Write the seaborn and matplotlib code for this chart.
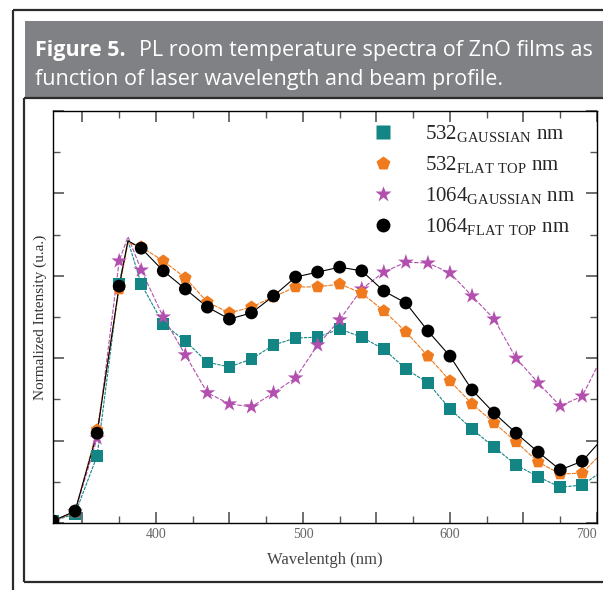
import pandas as pd
import seaborn as sns
import matplotlib.pyplot as plt
from matplotlib.lines import Line2D
from matplotlib.patches import Rectangle
from matplotlib.ticker import MultipleLocator, FuncFormatter

# wavelengths (nm); markers sit on the 15 nm grid
wavelength = [330, 345, 360, 375, 381, 390, 405, 420, 435, 450, 465, 480, 495, 510,
              525, 540, 555, 570, 585, 600, 615, 630, 645, 660, 675, 690, 700]
marker_wavelength = [330, 345, 360, 375, 390, 405, 420, 435, 450, 465, 480, 495, 510,
                     525, 540, 555, 570, 585, 600, 615, 630, 645, 660, 675, 690]

# normalized PL intensity for each laser / beam profile
gauss_532 = [0.005, 0.022, 0.163, 0.580, 0.685, 0.580, 0.483, 0.442, 0.390, 0.379, 0.398,
             0.432, 0.449, 0.451, 0.471, 0.451, 0.422, 0.374, 0.340, 0.277, 0.228, 0.184,
             0.141, 0.112, 0.087, 0.092, 0.117]
flat_532 = [0.005, 0.027, 0.226, 0.568, 0.680, 0.670, 0.636, 0.595, 0.536, 0.510, 0.524,
            0.549, 0.573, 0.573, 0.580, 0.558, 0.515, 0.464, 0.405, 0.345, 0.289, 0.243,
            0.197, 0.148, 0.119, 0.121, 0.158]
gauss_1064 = [0.005, 0.027, 0.206, 0.636, 0.695, 0.614, 0.500, 0.408, 0.316, 0.289, 0.282,
              0.316, 0.352, 0.432, 0.493, 0.568, 0.609, 0.633, 0.631, 0.607, 0.551, 0.495,
              0.400, 0.340, 0.284, 0.308, 0.379]
flat_1064 = [0.005, 0.029, 0.218, 0.575, 0.685, 0.667, 0.612, 0.568, 0.524, 0.495, 0.510,
             0.551, 0.597, 0.609, 0.621, 0.612, 0.563, 0.534, 0.466, 0.405, 0.323, 0.267,
             0.218, 0.172, 0.129, 0.150, 0.190]

x_ticks = [350, 400, 450, 500, 550, 600, 650, 700]
x_tick_labels = ['', '400', '', '500', '', '600', '', '700']

series = ['532 gaussian', '1064 gaussian', '532 flat top', '1064 flat top']
values = {'532 gaussian': gauss_532, '1064 gaussian': gauss_1064,
          '532 flat top': flat_532, '1064 flat top': flat_1064}
legend_order = ['532 gaussian', '532 flat top', '1064 gaussian', '1064 flat top']
legend_labels = [r'532$_{\mathregular{GAUSSIAN}}$ nm',
                 r'532$_{\mathregular{FLAT\ TOP}}$ nm',
                 r'1064$_{\mathregular{GAUSSIAN}}$ nm',
                 r'1064$_{\mathregular{FLAT\ TOP}}$ nm']

palette = {'532 gaussian': '#138585', '532 flat top': '#f07a1e',
           '1064 gaussian': '#b34fae', '1064 flat top': '#000000'}
markers = {'532 gaussian': 's', '532 flat top': 'p',
           '1064 gaussian': '*', '1064 flat top': 'o'}
sizes = {'532 gaussian': 70, '532 flat top': 90,
         '1064 gaussian': 140, '1064 flat top': 85}
dashes = {'532 gaussian': (3, 1), '532 flat top': (4, 1),
          '1064 gaussian': (4, 1.5), '1064 flat top': ''}

df = pd.DataFrame([(s, w, v) for s in series for w, v in zip(wavelength, values[s])],
                  columns=['series', 'wavelength', 'intensity'])
df_marks = df[df['wavelength'].isin(marker_wavelength)]

sns.set_theme(style='ticks')
plt.rcParams['font.family'] = ['Liberation Serif', 'DejaVu Serif']
plt.rcParams['mathtext.fontset'] = 'custom'
plt.rcParams['mathtext.rm'] = 'Liberation Serif'

fig = plt.figure(figsize=(6.03, 5.90), dpi=100)
fig.patch.set_facecolor('white')

# caption header and frames
fig.patches.append(Rectangle((25 / 603, 1 - 97 / 590), 1, 76 / 590, transform=fig.transFigure,
                             facecolor='#808184', edgecolor='none', zorder=0))
frame = dict(transform=fig.transFigure, color='#2b2b2b', lw=1.6, solid_capstyle='butt')
fig.add_artist(Line2D([12.5 / 603, 12.5 / 603], [0, 1 - 10 / 590], **frame))
fig.add_artist(Line2D([12.5 / 603, 1], [1 - 10 / 590, 1 - 10 / 590], **frame))
fig.add_artist(Line2D([24 / 603, 24 / 603], [1 - 582 / 590, 1 - 98 / 590], **frame))
fig.add_artist(Line2D([24 / 603, 1], [1 - 98 / 590, 1 - 98 / 590], **frame))
fig.add_artist(Line2D([24 / 603, 1], [1 - 582 / 590, 1 - 582 / 590], **frame))

head = dict(color='white', fontsize=15.5, family='Open Sans', va='baseline')
t1 = fig.text(35 / 603, 1 - 56 / 590, 'Figure 5.', fontweight='bold', **head)
fig.text(35 / 603, 1 - 85 / 590, 'function of laser wavelength and beam profile.', **head)
fig.canvas.draw()
bb = t1.get_window_extent()
fig.text((bb.x1 + 13) / 603, 1 - 56 / 590, 'PL room temperature spectra of ZnO films as', **head)

ax = fig.add_axes([53 / 603, 1 - 523 / 590, 544 / 603, 412 / 590])
sns.lineplot(data=df, x='wavelength', y='intensity', hue='series', style='series',
             palette=palette, dashes=dashes, estimator=None, sort=False, lw=0.8,
             legend=False, ax=ax)
sns.scatterplot(data=df_marks, x='wavelength', y='intensity', hue='series', style='series',
                size='series', sizes=sizes, palette=palette, markers=markers,
                linewidth=0, legend=False, ax=ax, zorder=3)

ax.set_xlim(330, 700)
ax.set_ylim(0, 1)
ax.set_xticks(x_ticks, x_tick_labels)
ax.get_xticklabels()[-1].set_horizontalalignment('right')
ax.xaxis.set_minor_locator(MultipleLocator(25))
ax.yaxis.set_major_locator(MultipleLocator(0.2))
ax.yaxis.set_minor_locator(MultipleLocator(0.1))
ax.yaxis.set_major_formatter(FuncFormatter(lambda v, p: ''))
ax.tick_params(which='both', direction='in', top=True, right=True, color='#555555',
               labelsize=10, labelcolor='#666666')
ax.tick_params(which='major', length=8, width=1.2)
ax.tick_params(which='minor', length=5, width=1.0)
for sp in ax.spines.values():
    sp.set_linewidth(1.0)
    sp.set_color('black')

ax.set_xlabel('Wavelentgh (nm)', fontsize=12, color='#444444', labelpad=8)
ax.set_ylabel('Normalized Intensity (u.a.)', fontsize=11, color='#333333', labelpad=1)

handles = [Line2D([], [], ls='none', marker=markers[s], color=palette[s], mec='none',
                  markersize=12 if markers[s] == '*' else 10) for s in legend_order]
ax.legend(handles, legend_labels, loc='upper left', bbox_to_anchor=(0.565, 1.0),
          frameon=False, fontsize=15, handlelength=1.0, handletextpad=1.5,
          labelspacing=0.45, borderaxespad=0.2)

fig.savefig('out.png', dpi=100, facecolor='white')
